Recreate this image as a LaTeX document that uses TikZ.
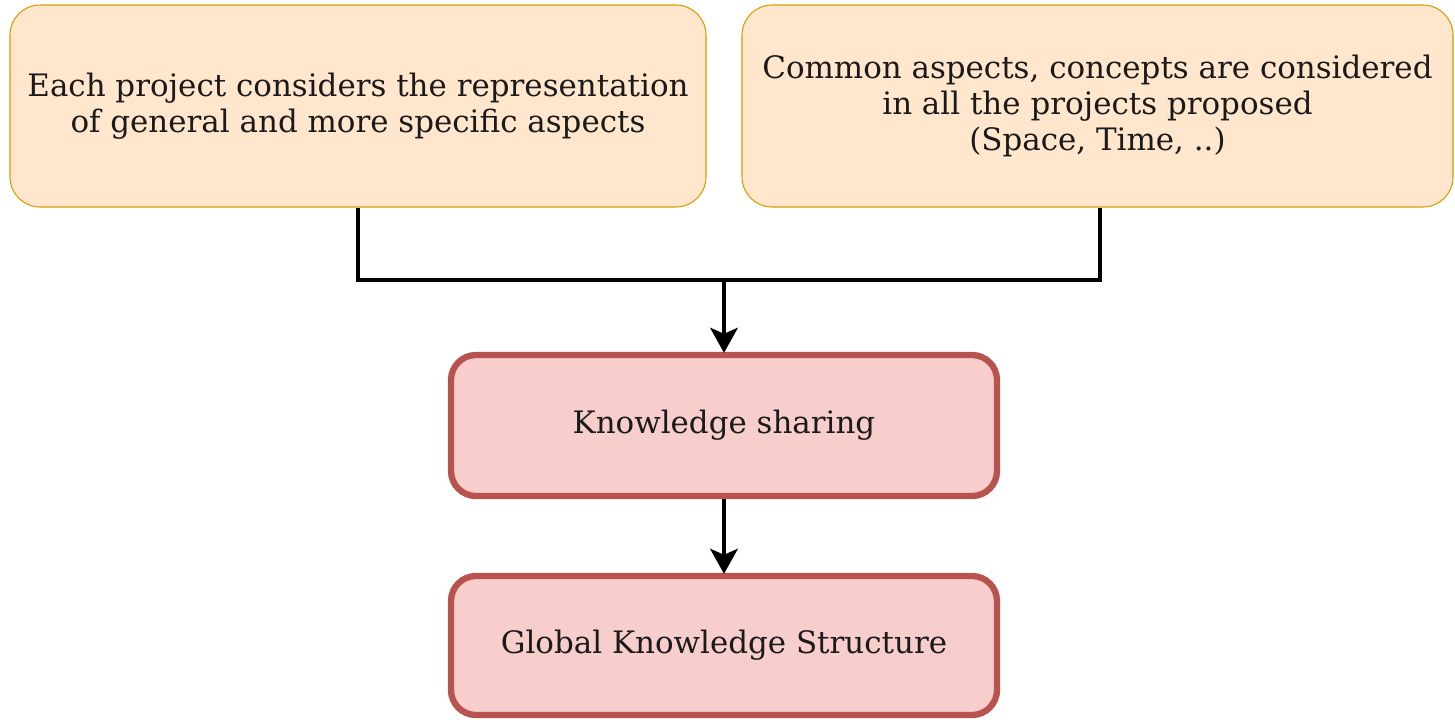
\documentclass[tikz,border=0pt]{standalone}
\usepackage{fontspec}
\setmainfont{DejaVu Serif}
\usetikzlibrary{arrows.meta}
\definecolor{peachfill}{HTML}{FFE6CC}
\definecolor{peachdraw}{HTML}{D79B00}
\definecolor{rosefill}{HTML}{F8CECC}
\definecolor{rosedraw}{HTML}{B85450}
\definecolor{inktext}{HTML}{1A1A1A}
\begin{document}
\begin{tikzpicture}[x=0.02cm,y=-0.02cm,
    every node/.style={text=inktext, font=\fontsize{17.6}{20.3}\selectfont, align=center},
    peachbox/.style={draw=peachdraw, fill=peachfill, line width=0.6pt, rounded corners=0.6cm},
    rosebox/.style={draw=rosedraw, fill=rosefill, line width=3.6pt, rounded corners=0.5cm,
      minimum width=546*0.02cm},
    conn/.style={draw=black, line width=2.6pt},
    arr/.style={conn, -{Stealth[length=0.5cm, width=0.55cm, inset=0.12cm]}}]

      \useasboundingbox (0,0) rectangle (1455,721);

      % upper boxes
      \node[peachbox, minimum width=696*0.02cm, minimum height=202*0.02cm] (each) at (358,106)
        {Each project considers the representation\\of general and more specific aspects};
      \node[peachbox, minimum width=711*0.02cm, minimum height=202*0.02cm] (common) at (1097.5,106)
        {Common aspects, concepts are considered\\in all the projects proposed\\(Space, Time, ..)};

      % lower boxes
      \node[rosebox, minimum height=141*0.02cm] (sharing) at (724,425.5) {Knowledge sharing};
      \node[rosebox, minimum height=139*0.02cm] (global) at (724,645.5) {Global Knowledge Structure};

      \coordinate (join) at (724,280);

      \draw[conn] (each.south) |- (join);
      \draw[conn] (common.south -| 1100,0) |- (join);
      \draw[arr] (join) -- ([yshift=-0.02cm]sharing.north);
      \draw[arr] (sharing.south) -- ([yshift=-0.02cm]global.north);

    \end{tikzpicture}
\end{document}
